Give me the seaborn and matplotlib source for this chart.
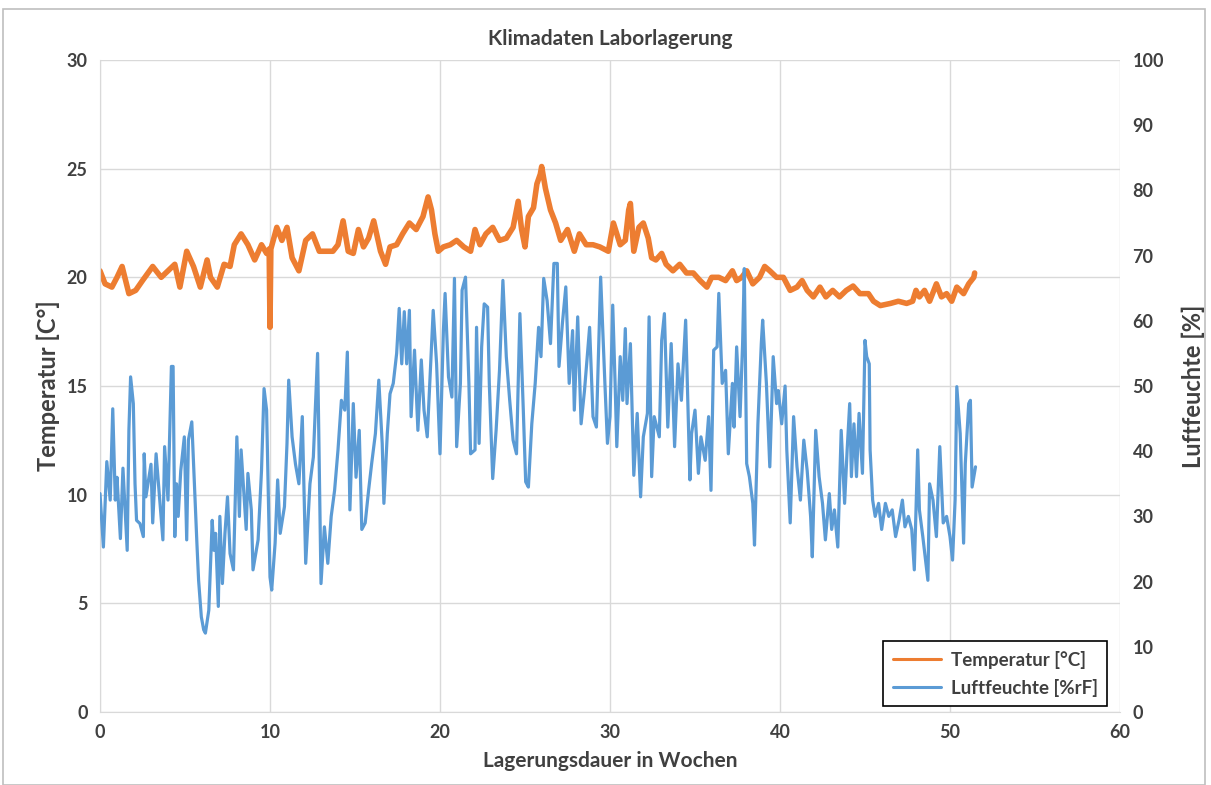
import matplotlib
matplotlib.use("Agg")
import matplotlib.pyplot as plt
import seaborn as sns
import pandas as pd
from matplotlib.patches import Rectangle

# humidity readings (week, %rF)
weeks_hum = [0.0, 0.2, 0.4, 0.6, 0.75, 0.9, 1.0, 1.2, 1.35, 1.6, 1.7, 1.8, 1.96, 2.06, 2.15, 2.35, 2.55, 2.6, 2.7,
             3.0, 3.1, 3.3, 3.5, 3.7, 3.8, 4.0, 4.2, 4.3, 4.4, 4.5, 4.6, 4.75, 4.96, 5.1, 5.2, 5.4, 5.55, 5.7,
             5.8, 5.96, 6.1, 6.2, 6.4, 6.6, 6.7, 6.8, 6.96, 7.05, 7.2, 7.35, 7.5, 7.65, 7.85, 8.05, 8.2, 8.3,
             8.6, 8.7, 8.9, 9.0, 9.3, 9.5, 9.65, 9.8, 9.9, 10.0, 10.1, 10.3, 10.45, 10.6, 10.85, 11.0, 11.1,
             11.3, 11.5, 11.7, 11.9, 12.1, 12.35, 12.55, 12.8, 13.0, 13.2, 13.4, 13.6, 13.8, 14.0, 14.2, 14.4,
             14.55, 14.7, 14.9, 15.06, 15.25, 15.4, 15.6, 15.8, 15.98, 16.2, 16.4, 16.6, 16.7, 16.9, 17.06,
             17.25, 17.45, 17.6, 17.75, 17.9, 18.04, 18.2, 18.3, 18.5, 18.7, 18.9, 19.06, 19.25, 19.4, 19.6,
             19.8, 20.0, 20.2, 20.3, 20.5, 20.7, 20.85, 20.98, 21.2, 21.3, 21.5, 21.7, 21.8, 22.06, 22.15,
             22.3, 22.45, 22.6, 22.8, 22.9, 23.1, 23.3, 23.5, 23.7, 23.9, 24.1, 24.3, 24.5, 24.7, 24.9, 25.04,
             25.2, 25.4, 25.6, 25.8, 25.94, 26.1, 26.3, 26.5, 26.7, 26.9, 27.0, 27.2, 27.4, 27.6, 27.8, 27.9,
             28.1, 28.3, 28.5, 28.8, 29.0, 29.2, 29.45, 29.7, 29.85, 30.0, 30.16, 30.3, 30.4, 30.6, 30.75,
             30.9, 31.0, 31.2, 31.4, 31.6, 31.8, 31.96, 32.2, 32.3, 32.45, 32.6, 32.9, 33.04, 33.2, 33.4, 33.6,
             33.8, 34.0, 34.2, 34.45, 34.7, 34.8, 35.0, 35.2, 35.35, 35.6, 35.8, 35.94, 36.1, 36.3, 36.4, 36.6,
             36.8, 36.96, 37.2, 37.3, 37.45, 37.65, 37.8, 37.9, 38.04, 38.2, 38.4, 38.5, 38.7, 38.9, 38.98,
             39.2, 39.4, 39.6, 39.8, 39.9, 40.1, 40.3, 40.4, 40.6, 40.8, 41.0, 41.2, 41.4, 41.6, 41.8, 41.9,
             42.1, 42.3, 42.5, 42.67, 42.9, 43.04, 43.2, 43.4, 43.6, 43.8, 43.95, 44.1, 44.2, 44.35, 44.5,
             44.65, 44.85, 45.0, 45.1, 45.25, 45.3, 45.45, 45.6, 45.8, 45.98, 46.2, 46.4, 46.6, 46.8, 47.0,
             47.2, 47.35, 47.55, 47.75, 47.9, 48.1, 48.2, 48.4, 48.7, 48.8, 49.0, 49.2, 49.4, 49.6, 49.8,
             50.0, 50.15, 50.3, 50.4, 50.6, 50.8, 50.9, 51.1, 51.2, 51.3, 51.5]
humidity = [33.5, 25.3, 38.4, 32.5, 46.5, 32.5, 36, 26.6, 37.4, 24.8, 43.2, 51.4, 47.3, 35, 29.4, 28.9, 26.9, 39.6, 33,
            38, 29, 39.6, 33, 26.4, 40.7, 32.5, 53, 53, 26.9, 35, 30, 37, 42.2, 26.4, 41.7, 44.5, 35, 25.9,
            20.2, 14.6, 12.6, 12.1, 15.6, 29.4, 24.8, 27.4, 16.2, 30, 19.7, 27.4, 33, 24.3, 21.8, 42.2, 30, 40.2,
            28, 36.6, 31, 21.8, 26.4, 37, 49.6, 46.3, 33.5, 20.7, 18.7, 25.9, 35.6, 27.4, 31.5, 41.2, 50.9,
            42.2, 38, 35, 45.3, 22.8, 35, 39.1, 55, 19.7, 28.4, 22.8, 30, 34, 40.2, 47.8, 46.3,
            55.2, 31, 47.3, 36, 43.2, 28, 29, 34, 38.1, 42.7, 50.9, 41.2, 32, 42.7, 48.8,
            50.4, 55, 61.9, 53.4, 61.4, 53.4, 61.6, 45.3, 55.5, 43.2, 54, 46.3, 42.2, 50.4, 61.6,
            53.4, 39.6, 58.5, 64.2, 51.4, 48.3, 66.5, 40.7, 50.4, 64.7, 66.7, 50.4, 39.6, 40.2, 59,
            41.2, 56, 62.6, 62.1, 50.4, 35.8, 43.2, 52.4, 66.2, 54.5, 47.8, 41.7, 39.6, 61.1, 46.3, 35.3,
            34.5, 44.2, 50.4, 59, 54.5, 66.5, 63.1, 56.5, 68.8, 68.8, 53, 59.6, 65.2, 50.4, 58.5, 46.3,
            60.6, 44.2, 49.3, 59, 45.3, 43.7, 66.7, 50.4, 41.2, 45.3, 62.4, 50.4, 40.7, 54.5, 47.8,
            58.8, 47.3, 56.5, 36.3, 45.8, 33, 42.2, 45.8, 60.6, 36.1, 45.3, 42.2, 57, 61.1, 43.7, 56.5,
            40.7, 53.4, 47.8, 60.1, 35.6, 42.7, 46.3, 36.6, 42.2, 38.6, 45.3, 34, 55.5, 56, 64.2, 50.4,
            52.4, 39.6, 50.4, 43.7, 56, 45.3, 56.5, 68, 38.1, 36.1, 32, 25.6, 44.2, 56.5, 60.1,
            50.4, 37.6, 54.5, 47.3, 49.3, 44.2, 50, 40.2, 29, 45.3, 37.6, 32.5, 41.7, 37, 30, 23.8,
            43.2, 36.1, 32, 26.4, 33.5, 28, 31, 25.3, 43.2, 32, 40.2, 47.3, 36.1, 44.2, 36.1,
            45.8, 36.6, 57, 54.5, 53.4, 40.2, 32.5, 30, 32, 28, 32, 30, 31, 26.9, 29.4,
            32.5, 28.4, 30, 28, 21.8, 40.2, 31, 26.9, 20.2, 35, 32.5, 26.9, 40.7, 29, 30,
            26.9, 23.3, 32.5, 49.9, 42.7, 25.9, 38.1, 47.3, 47.8, 34.5, 37.6]

# temperature readings (week, degC)
weeks_temp = [0.0, 0.3, 0.7, 1.0, 1.3, 1.7, 2.1, 2.5, 3.1, 3.6, 4.4, 4.7, 5.1, 5.5, 5.9, 6.3, 6.5, 6.9, 7.3, 7.65,
              7.9, 8.3, 8.7, 9.1, 9.5, 9.8, 9.95, 10.0, 10.05, 10.4, 10.7, 11.0, 11.3, 11.7, 12.1, 12.5, 12.9,
              13.3, 13.7, 14.0, 14.3, 14.6, 14.9, 15.2, 15.5, 15.8, 16.1, 16.5, 16.8, 17.06, 17.45, 17.8, 18.2,
              18.6, 19.0, 19.3, 19.5, 19.7, 19.9, 20.2, 20.6, 20.98, 21.4, 21.8, 22.06, 22.35, 22.7, 23.1, 23.5,
              23.9, 24.3, 24.6, 24.8, 25.0, 25.2, 25.5, 25.7, 25.9, 25.98, 26.2, 26.5, 26.8, 27.1, 27.5, 27.9,
              28.2, 28.6, 29.0, 29.4, 29.9, 30.2, 30.6, 30.9, 31.1, 31.2, 31.4, 31.7, 31.96, 32.25, 32.45, 32.7,
              33.04, 33.3, 33.7, 34.1, 34.5, 34.9, 35.3, 35.7, 35.98, 36.4, 36.8, 37.2, 37.45, 37.75, 38.04,
              38.4, 38.8, 39.1, 39.4, 39.8, 40.2, 40.6, 41.0, 41.3, 41.6, 41.96, 42.35, 42.7, 43.1, 43.5, 43.9,
              44.3, 44.7, 45.2, 45.5, 45.9, 46.5, 46.96, 47.45, 47.8, 48.0, 48.2, 48.5, 48.8, 49.2, 49.5, 49.8,
              50.1, 50.4, 50.8, 51.1, 51.4, 51.45]
temperature = [20.3, 19.7, 19.55, 20.0, 20.5, 19.25, 19.4, 19.85, 20.5, 20.0, 20.6, 19.55, 21.2, 20.5, 19.55, 20.8, 20.0,
               19.55, 20.6, 20.5, 21.5, 22.0, 21.5, 20.8, 21.5, 21.1, 21.3, 17.7, 21.3, 22.3, 21.7, 22.3, 20.9,
               20.3, 21.7, 22.0, 21.2, 21.2, 21.2, 21.5, 22.6, 21.2, 21.1, 22.2, 21.4, 21.8, 22.6, 21.2, 20.6,
               21.4, 21.5, 22.0, 22.5, 22.2, 22.8, 23.7, 23.1, 22.0, 21.2, 21.4, 21.5, 21.7, 21.4, 21.2, 22.2,
               21.5, 22.0, 22.3, 21.7, 21.8, 22.3, 23.5, 22.2, 21.4, 22.8, 23.2, 24.3, 24.75, 25.1, 24.1, 23.1,
               22.5, 21.7, 22.2, 21.2, 22.0, 21.5, 21.5, 21.4, 21.2, 22.5, 21.5, 21.7, 23.1, 23.4, 21.2, 22.3,
               22.5, 21.8, 20.9, 20.8, 21.1, 20.6, 20.3, 20.6, 20.2, 20.2, 19.85, 19.55, 20.0, 20.0, 19.85, 20.3,
               19.85, 20.0, 20.3, 19.7, 20.0, 20.5, 20.3, 20.0, 20.0, 19.4, 19.55, 19.85, 19.4, 19.1, 19.55,
               19.1, 19.4, 19.1, 19.4, 19.6, 19.25, 19.25, 18.9, 18.7, 18.8, 18.9, 18.8, 18.9, 19.4, 19.1, 19.4,
               18.9, 19.7, 19.1, 19.25, 18.9, 19.55, 19.25, 19.7, 20.0, 20.2]

temp_df = pd.DataFrame({"Woche": weeks_temp, "Temperatur": temperature})
hum_df = pd.DataFrame({"Woche": weeks_hum, "Luftfeuchte": humidity})

sns.set_style("whitegrid")
plt.rcParams["font.family"] = ["Lato", "DejaVu Sans"]
plt.rcParams["font.weight"] = "bold"

txt = "#404040"
fig = plt.figure(figsize=(12.11, 7.85), dpi=100)
ax = fig.add_axes([100 / 1211, 1 - 712 / 785, 1020 / 1211, 652 / 785])
ax2 = ax.twinx()

sns.lineplot(data=temp_df, x="Woche", y="Temperatur", ax=ax, color="#ED7D31", linewidth=4,
             label="Temperatur [°C]", legend=False)
sns.lineplot(data=hum_df, x="Woche", y="Luftfeuchte", ax=ax2, color="#5B9BD5", linewidth=2.3,
             label="Luftfeuchte [%rF]", legend=False)

ax.set_xlim(0, 60)
ax.set_ylim(0, 30)
ax2.set_ylim(0, 100)
ax.set_xticks(range(0, 61, 10))
ax.set_yticks(range(0, 31, 5))
ax2.set_yticks(range(0, 101, 10))
ax2.grid(False)
ax.grid(True, color="#d9d9d9", linewidth=1)
for a in (ax, ax2):
    for s in a.spines.values():
        s.set_visible(False)
    a.tick_params(length=0, labelsize=13, labelcolor=txt, pad=9)
ax.spines["bottom"].set_visible(True)
ax.spines["bottom"].set_color("#d9d9d9")
ax.spines["left"].set_visible(True)
ax.spines["left"].set_color("#d9d9d9")

ax.set_xlabel("Lagerungsdauer in Wochen", fontsize=15, color=txt, fontweight="bold", labelpad=7)
ax.set_ylabel("Temperatur [C°]", fontsize=17, color=txt, fontweight="bold", labelpad=5)
ax2.set_ylabel("Luftfeuchte [%]", fontsize=17, color=txt, fontweight="bold", labelpad=13)
ax.set_title("Klimadaten Laborlagerung", fontsize=15, color=txt, fontweight="bold", pad=11)

h1, l1 = ax.get_legend_handles_labels()
h2, l2 = ax2.get_legend_handles_labels()
leg = ax2.legend(h1 + h2, l1 + l2, loc="lower right", bbox_to_anchor=(0.993, 0.0), fontsize=13.5,
                 frameon=True, fancybox=False, edgecolor="black", framealpha=1,
                 borderpad=0.5, handlelength=2.6, labelspacing=0.55, borderaxespad=0.3,
                 handletextpad=0.5)
leg.get_frame().set_linewidth(1.2)
for t in leg.get_texts():
    t.set_color(txt)
for ln in leg.get_lines():
    ln.set_linewidth(2.2)

fig.patches.append(Rectangle((3 / 1211, 0), 1202 / 1211, 1 - 9 / 785, transform=fig.transFigure,
                             fill=False, edgecolor="#bfbfbf", linewidth=1.2))

fig.savefig("out.png", dpi=100)
